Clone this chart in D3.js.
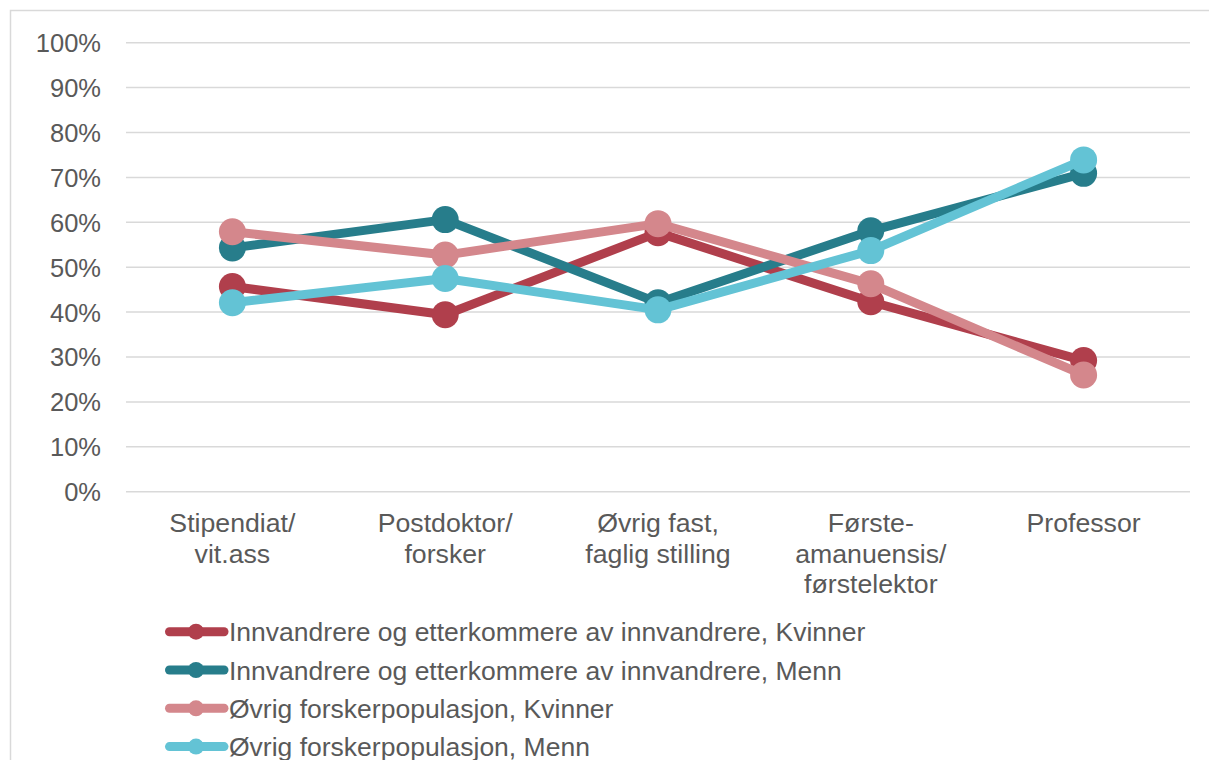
<!DOCTYPE html>
<html>
<head>
<meta charset="utf-8">
<script src="https://cdn.jsdelivr.net/npm/d3@7"></script>
<style>
  body { margin: 0; background: #fff; }
  svg text { font-family: "Liberation Sans", Arial, sans-serif; fill: #595959; }
</style>
</head>
<body>
<svg id="chart" width="1209" height="760"></svg>
<script>
// categories (x axis), each one split into text lines
const categories = [
  ['Stipendiat/', 'vit.ass'],
  ['Postdoktor/', 'forsker'],
  ['Øvrig fast,', 'faglig stilling'],
  ['Første-', 'amanuensis/', 'førstelektor'],
  ['Professor']
];

const seriesNames = [
  'Innvandrere og etterkommere av innvandrere, Kvinner',
  'Innvandrere og etterkommere av innvandrere, Menn',
  'Øvrig forskerpopulasjon, Kvinner',
  'Øvrig forskerpopulasjon, Menn'
];

// shares
const innvKvinner = [0.457, 0.394, 0.577, 0.423, 0.292];
const innvMenn = [0.543, 0.606, 0.421, 0.581, 0.709];
const ovrigKvinner = [0.579, 0.527, 0.597, 0.463, 0.260];
const ovrigMenn = [0.421, 0.475, 0.405, 0.537, 0.739];

const yTicks = [0, 0.1, 0.2, 0.3, 0.4, 0.5, 0.6, 0.7, 0.8, 0.9, 1];

const colors = ['#B03F4C', '#277D8B', '#D4878C', '#63C3D5'];

let series = [innvKvinner, innvMenn, ovrigKvinner, ovrigMenn].map((values, i) => ({
  name: seriesNames[i],
  color: colors[i],
  values: values
}));

let svg = d3.select('#chart');

// outer frame (only top and left edges are inside the picture)
svg.append('path')
  .attr('d', 'M10.5,760 V10.5 H1209')
  .attr('fill', 'none')
  .attr('stroke', '#D9D9D9')
  .attr('stroke-width', 1.5);

let x = d3.scaleBand()
  .domain(d3.range(categories.length))
  .range([126, 1190]);

let y = d3.scaleLinear()
  .domain([0, 1])
  .range([491.7, 42.7]);

// gridlines
svg.append('g')
  .selectAll('line')
  .data(yTicks)
  .enter()
  .append('line')
  .attr('x1', 126)
  .attr('x2', 1190)
  .attr('y1', (d) => y(d))
  .attr('y2', (d) => y(d))
  .attr('stroke', '#D9D9D9')
  .attr('stroke-width', 1.5);

// y axis labels
let yAxis = svg.append('g')
  .attr('transform', 'translate(101,0)')
  .call(d3.axisLeft(y).tickValues(yTicks).tickFormat(d3.format('.0%')).tickSize(0).tickPadding(0));
yAxis.select('.domain').remove();
yAxis.selectAll('text')
  .style('font-size', '25.5px')
  .attr('dy', '0.35em')
  .style('fill', '#595959');

// x axis labels
let xLabels = svg.append('g');
xLabels.selectAll('text')
  .data(categories)
  .enter()
  .append('text')
  .attr('text-anchor', 'middle')
  .style('font-size', '26.7px')
  .each(function(lines, i) {
    d3.select(this).selectAll('tspan')
      .data(lines)
      .enter()
      .append('tspan')
      .attr('x', x(i) + x.bandwidth() / 2)
      .attr('y', (d, j) => 532 + j * 30.5)
      .text((d) => d);
  });

let line = d3.line()
  .x((d, i) => x(i) + x.bandwidth() / 2)
  .y((d) => y(d));

// each series: line then markers, drawn in order so the last sits on top
series.forEach((s) => {
  let g = svg.append('g');
  g.append('path')
    .datum(s.values)
    .attr('d', line)
    .attr('fill', 'none')
    .attr('stroke', s.color)
    .attr('stroke-width', 9)
    .attr('stroke-linejoin', 'round');
  g.selectAll('circle')
    .data(s.values)
    .enter()
    .append('circle')
    .attr('cx', (d, i) => x(i) + x.bandwidth() / 2)
    .attr('cy', (d) => y(d))
    .attr('r', 13.5)
    .attr('fill', s.color);
});

// legend
let legend = svg.append('g')
  .selectAll('g')
  .data(series)
  .enter()
  .append('g')
  .attr('transform', (d, i) => `translate(0,${631.7 + i * 38.3})`);

legend.append('line')
  .attr('x1', 169.5)
  .attr('x2', 224)
  .attr('stroke', (d) => d.color)
  .attr('stroke-width', 9)
  .attr('stroke-linecap', 'round');

legend.append('circle')
  .attr('cx', 196)
  .attr('r', 8)
  .attr('fill', (d) => d.color);

legend.append('text')
  .attr('x', 229)
  .attr('y', 9.5)
  .style('font-size', '26.5px')
  .text((d) => d.name);
</script>
</body>
</html>
